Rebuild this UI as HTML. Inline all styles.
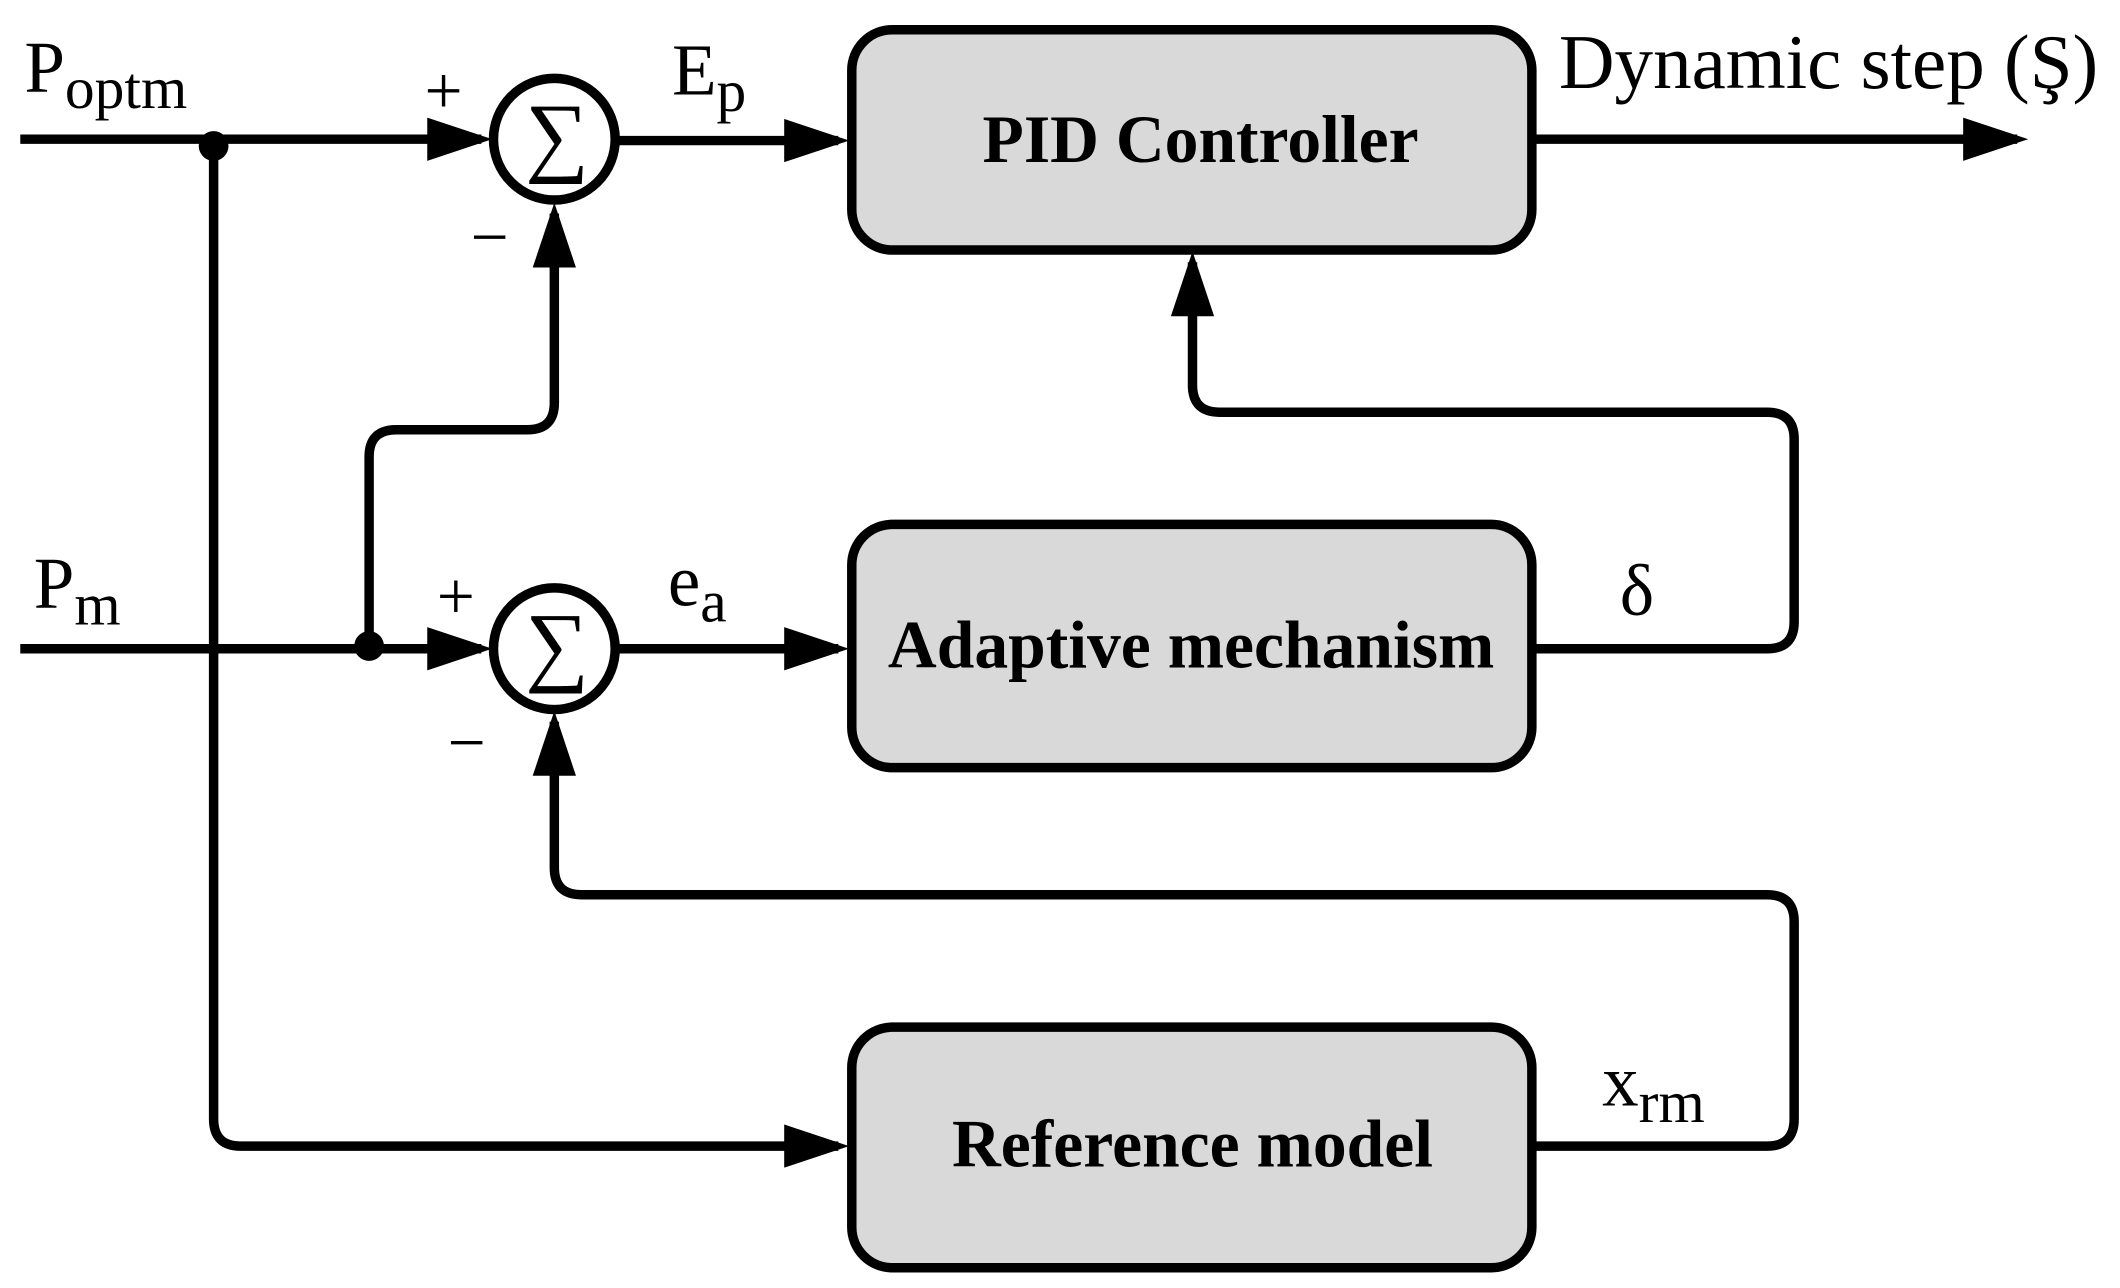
<!DOCTYPE html>
<html><head><meta charset="utf-8"><style>html,body{margin:0;padding:0;background:#fff}svg{display:block}</style></head>
<body>
<svg width="2120" height="1288" viewBox="0 0 1568 953" preserveAspectRatio="none" xmlns="http://www.w3.org/2000/svg" font-family="Liberation Serif, serif">
<defs>
<marker id="a" markerWidth="48" markerHeight="32" refX="40" refY="16" markerUnits="userSpaceOnUse" orient="auto">
<path d="M0,0 L48,16 L0,32 Z" fill="#000"/></marker>
</defs>
<g fill="none" stroke="#000" stroke-width="7" stroke-linejoin="round">
<rect x="630" y="22" width="503" height="163" rx="30" fill="#d9d9d9"/>
<rect x="630" y="388" width="503" height="180" rx="30" fill="#d9d9d9"/>
<rect x="630" y="760" width="503" height="178" rx="30" fill="#d9d9d9"/>
<circle cx="410" cy="103" r="45" fill="#fff"/>
<circle cx="410" cy="480" r="45" fill="#fff"/>
<line x1="15" y1="103" x2="356" y2="103" marker-end="url(#a)"/>
<line x1="455" y1="104" x2="620" y2="104" marker-end="url(#a)"/>
<line x1="1133" y1="103" x2="1492" y2="103" marker-end="url(#a)"/>
<line x1="15" y1="480" x2="356" y2="480" marker-end="url(#a)"/>
<line x1="455" y1="480" x2="620" y2="480" marker-end="url(#a)"/>
<path d="M273,478 V338 Q273,318 293,318 H390 Q410,318 410,298 V158" marker-end="url(#a)"/>
<path d="M1133,480 H1307 Q1327,480 1327,460 V325 Q1327,305 1307,305 H902 Q882,305 882,285 V194" marker-end="url(#a)"/>
<path d="M158,108 V828 Q158,848 178,848 H620" marker-end="url(#a)"/>
<path d="M1133,848 H1307 Q1327,848 1327,828 V682 Q1327,662 1307,662 H430 Q410,662 410,642 V534" marker-end="url(#a)"/>
</g>
<circle cx="158" cy="108" r="11" fill="#000"/>
<circle cx="273" cy="478" r="11" fill="#000"/>
<g fill="#000" font-size="54">
<text x="412" y="122" text-anchor="middle" font-size="66">∑</text>
<text x="412" y="499" text-anchor="middle" font-size="66">∑</text>
<text x="18" y="68">P<tspan font-size="44" dy="12">optm</tspan></text>
<text x="25" y="450">P<tspan font-size="44" dy="12">m</tspan></text>
<text x="497" y="70">E<tspan font-size="44" dy="12">p</tspan></text>
<text x="494" y="448">e<tspan font-size="44" dy="12">a</tspan></text>
<text x="1185" y="818">x<tspan font-size="44" dy="12">rm</tspan></text>
<text x="1198" y="455">δ</text>
<text x="1153" y="65" font-size="57">Dynamic step (Ş)</text>
<text x="314" y="84" font-size="50">+</text>
<text x="323" y="458" font-size="50">+</text>
<text x="348" y="192" font-size="50">−</text>
<text x="331" y="566" font-size="50">−</text>
<g font-weight="bold" font-size="50" text-anchor="middle">
<text x="888" y="120">PID Controller</text>
<text x="881" y="494">Adaptive mechanism</text>
<text x="882" y="863">Reference model</text>
</g>
</g>
</svg>
</body></html>
